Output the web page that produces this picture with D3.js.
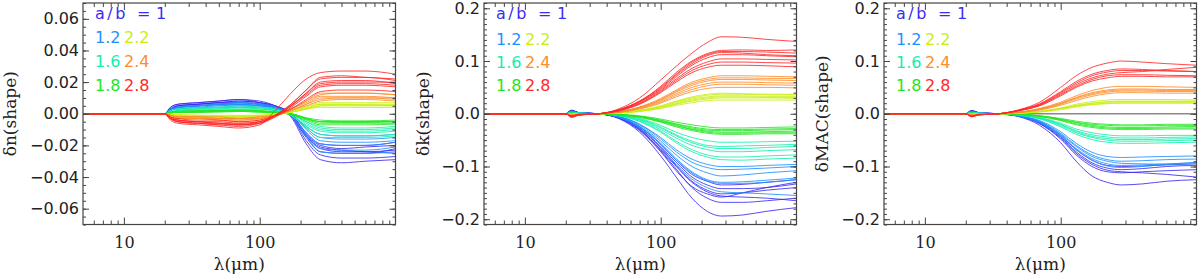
<!DOCTYPE html>
<html><head><meta charset="utf-8">
<script src="https://cdn.jsdelivr.net/npm/d3@7"></script>
<style>html,body{margin:0;padding:0;background:#fff}svg{display:block}</style>
</head><body><svg id="c" width="1200" height="276"></svg>
<script>
// wavelength sample points (micron)
const lambda = [5,20,22,25,35,50,70,100,130,170,220,280,400,600,1000];
// legend labels (a/b) and colours
const abLabels = ["1","1.2","1.6","1.8","2.2","2.4","2.8"];
const abColors = ["#3c2cf2","#1e90ff","#14eeaa","#22e622","#c8ee14","#ff8c28","#ff2828"];
const xTicksMajor = [10,100];
const xTicksMinor = [6,7,8,9,20,30,40,50,60,70,80,90,200,300,400,500,600,700,800,900];
const yTicksN = [-0.06,-0.04,-0.02,0,0.02,0.04,0.06];
const yTicksK = [-0.2,-0.1,0,0.1,0.2];

// ---- delta n (shape), values in units of 1e-3 ----
const dn_ab10 = [
 [0,0,3,5,6,7,8,7,5,0,-14,-22,-24,-24,-23],
 [0,0,4,6,7,8,9,8,5,-1,-17,-26,-28,-28,-27],
 [0,0,3,5,6,7,7,6,4,-1,-15,-24,-25,-25,-22],
 [0,0,4,6,7,8,9,7,4,-2,-19,-29,-31,-30,-29],
 [0,0,2,4,5,6,6,5,4,0,-12,-19,-20,-20,-18],
 [0,0,3,5,6,7,8,7,5,0,-13,-20,-22,-21,-20],
 [0,0,3,4,5,6,7,6,4,-1,-14,-21,-23,-24,-25]];
const dn_ab12 = [
 [0,0,2,4,5,5,6,5,4,0,-9,-15,-16,-16,-15],
 [0,0,2,3,4,5,5,5,3,0,-10,-17,-18,-18,-17],
 [0,0,3,4,5,6,6,6,4,-1,-12,-19,-20,-20,-18],
 [0,0,2,4,5,6,7,6,4,-1,-13,-22,-23,-23,-21],
 [0,0,2,3,4,4,5,4,3,0,-8,-13,-14,-14,-13],
 [0,0,3,4,5,6,7,6,4,-1,-14,-24,-25,-25,-24]];
const dn_ab16 = [
 [0,0,1,2,3,3,4,3,2,0,-5,-9,-10,-10,-9],
 [0,0,1,2,3,4,4,4,2,-1,-7,-11,-12,-12,-11],
 [0,0,1,2,3,3,3,3,2,0,-5,-8,-9,-9,-8],
 [0,0,2,3,3,4,4,4,2,-1,-8,-13,-14,-14,-13],
 [0,0,1,2,2,3,3,3,2,0,-6,-10,-11,-11,-10],
 [0,0,2,3,4,4,5,4,3,-1,-9,-15,-15,-15,-14]];
const dn_ab18 = [
 [0,0,1,1,1.5,2,2,1.5,1,0,-3,-5,-5,-5,-5],
 [0,0,0.5,1,1,1.5,2,1.5,1,0,-2.5,-4,-4.5,-4.5,-4],
 [0,0,1,1.5,2,2,2.5,2,1,-0.5,-3.5,-6,-6,-6,-6],
 [0,0,0.5,1,1,1,1.5,1,0.5,0,-3,-5,-5.5,-5.5,-5],
 [0,0,1,1,1.5,2,2,2,1,-0.5,-4,-7,-7,-7,-6.5],
 [0,0,0.5,1,1,1.5,1.5,1,0.5,0,-3,-5,-5,-5,-5]];
const dn_ab22 = [
 [0,0,-0.5,-1,-1,-1.5,-1.5,-1,-0.5,1,3,5,5,5,5],
 [0,0,-1,-1,-1.5,-2,-2,-1.5,-0.5,1,4,6,6,6,6],
 [0,0,-0.5,-0.5,-1,-1,-1,-1,0,1,3,4,4,4,4],
 [0,0,-1,-1.5,-2,-2,-2.5,-2,-1,1,4.5,7,7,7,7],
 [0,0,-0.5,-1,-1,-1.5,-1.5,-1,-0.5,1,3,5,5.5,5.5,5],
 [0,0,-1,-1,-1.5,-2,-2,-1.5,-0.5,1,3.5,6,6,5.5,5.5]];
const dn_ab24 = [
 [0,0,-1,-2,-2,-3,-3,-3,-1,2,6,9,10,10,9],
 [0,0,-2,-2,-3,-3,-4,-3,-1,3,7,11,11,11,10],
 [0,0,-1,-2,-2,-3,-3,-2,-1,2,5,8,9,9,8],
 [0,0,-2,-3,-3,-4,-4,-3,-1,3,8,12,13,13,12],
 [0,0,-1,-2,-2,-2,-3,-2,-1,2,6,10,10,10,10],
 [0,0,-2,-3,-3,-4,-5,-4,-1,3,8,13,13,13,12]];
const dn_ab28 = [
 [0,0,-3,-4,-5,-5,-6,-5,-2,4,11,17,18,18,17],
 [0,0,-3,-5,-6,-6,-7,-6,-2,5,13,20,21,21,19],
 [0,0,-2,-3,-4,-4,-5,-4,-1,3,9,14,15,15,14],
 [0,0,-4,-6,-7,-8,-9,-7,2,13,22,26,27,27,25],
 [0,0,-3,-5,-6,-7,-8,-6,-1,6,15,22,23,23,21],
 [0,0,-3,-4,-5,-6,-6,-5,-1,5,12,18,19,19,18],
 [0,0,-2,-4,-5,-6,-7,-5,-1,5,13,19,20,20,20],
 [0,0,-3,-5,-6,-7,-7,-6,-1,6,15,23,24,23,22]];

// ---- delta k (shape), units of 1e-3 ----
const dk_ab10 = [
 [0,0,6,2,0,-10,-35,-80,-120,-160,-185,-194,-192,-185,-178],
 [0,0,6,2,0,-9,-30,-70,-105,-140,-160,-168,-168,-165,-160],
 [0,0,7,2,0,-8,-28,-65,-98,-128,-145,-152,-150,-145,-140],
 [0,0,5,2,0,-8,-27,-62,-92,-120,-135,-142,-142,-140,-133],
 [0,0,6,2,0,-7,-25,-58,-88,-115,-128,-135,-134,-130,-125],
 [0,0,5,1,0,-8,-30,-68,-100,-130,-148,-156,-158,-160,-165],
 [0,0,6,2,0,-9,-32,-72,-108,-138,-152,-158,-150,-140,-130]];
const dk_ab12 = [
 [0,0,4,1,0,-6,-22,-52,-78,-100,-112,-118,-116,-112,-108],
 [0,0,4,1,0,-6,-20,-48,-72,-92,-102,-106,-105,-103,-100],
 [0,0,5,2,0,-7,-25,-58,-88,-112,-127,-132,-132,-130,-125],
 [0,0,4,1,0,-7,-24,-56,-85,-110,-125,-130,-129,-126,-122],
 [0,0,5,1,0,-8,-28,-64,-96,-124,-140,-148,-150,-152,-155],
 [0,0,4,1,0,-5,-20,-45,-68,-86,-96,-100,-100,-98,-96]];
const dk_ab16 = [
 [0,0,2,1,0,-3,-10,-25,-40,-52,-60,-62,-61,-60,-58],
 [0,0,2,1,0,-4,-12,-30,-46,-60,-68,-72,-72,-70,-68],
 [0,0,2,0,0,-3,-9,-22,-35,-45,-51,-54,-54,-53,-52],
 [0,0,3,1,0,-4,-14,-33,-52,-68,-78,-82,-82,-80,-78],
 [0,0,2,1,0,-4,-15,-35,-55,-72,-82,-87,-88,-86,-84],
 [0,0,2,1,0,-3,-11,-27,-42,-55,-63,-66,-66,-64,-62]];
const dk_ab18 = [
 [0,0,1,0,0,-2,-5,-12,-19,-25,-29,-30,-30,-29,-28],
 [0,0,1,0,0,-2,-6,-14,-22,-29,-33,-35,-35,-34,-33],
 [0,0,1,0,0,-1,-4,-10,-16,-21,-25,-27,-27,-26,-25],
 [0,0,1,0,0,-2,-7,-16,-25,-32,-37,-39,-39,-38,-38],
 [0,0,1,0,0,-2,-5,-13,-20,-27,-31,-32,-32,-31,-30],
 [0,0,1,0,0,-2,-6,-15,-23,-30,-35,-37,-37,-36,-36]];
const dk_ab22 = [
 [0,0,-1,0,0,2,5,11,18,24,28,30,30,30,29],
 [0,0,-1,0,0,2,6,13,21,28,32,34,34,33,33],
 [0,0,-1,0,0,1,4,10,16,21,25,26,26,26,26],
 [0,0,-1,0,0,2,6,14,23,30,35,37,37,36,36],
 [0,0,-1,0,0,2,5,12,19,26,30,32,32,31,31],
 [0,0,-1,0,0,2,7,15,24,32,37,39,38,37,37]];
const dk_ab24 = [
 [0,0,-2,-1,0,3,10,22,35,46,53,56,56,55,54],
 [0,0,-2,-1,0,4,12,26,41,54,62,65,65,64,63],
 [0,0,-2,-1,0,3,9,20,32,42,48,50,50,50,49],
 [0,0,-3,-1,0,4,13,29,45,60,68,72,72,71,70],
 [0,0,-2,-1,0,3,11,24,38,50,57,60,60,59,58],
 [0,0,-2,-1,0,4,12,27,43,57,65,68,68,67,67]];
const dk_ab28 = [
 [0,0,-4,-1,0,10,30,64,90,115,135,146,145,141,137],
 [0,0,-5,-2,0,8,24,50,75,98,112,118,118,117,115],
 [0,0,-6,-2,0,7,20,44,66,86,98,104,104,103,102],
 [0,0,-5,-2,0,7,22,46,70,92,106,112,112,110,108],
 [0,0,-7,-3,0,8,24,52,78,100,114,120,121,120,121],
 [0,0,-5,-2,0,6,18,40,60,78,88,92,92,91,89],
 [0,0,-6,-2,0,8,23,48,73,95,110,116,115,112,110],
 [0,0,-4,-1,0,6,19,42,63,82,93,98,98,97,96]];

// ---- delta MAC (shape), units of 1e-3 ----
const dm_ab10 = [
 [0,0,6,2,0,-6,-22,-55,-90,-118,-130,-135,-133,-128,-125],
 [0,0,6,2,0,-5,-19,-48,-78,-100,-110,-112,-110,-108,-106],
 [0,0,5,1,0,-5,-17,-44,-72,-93,-103,-106,-104,-100,-98],
 [0,0,6,2,0,-5,-18,-46,-75,-96,-107,-110,-112,-115,-120],
 [0,0,5,2,0,-4,-16,-41,-68,-88,-98,-100,-99,-97,-95]];
const dm_ab12 = [
 [0,0,4,1,0,-4,-14,-37,-60,-78,-87,-90,-89,-87,-86],
 [0,0,4,1,0,-4,-13,-34,-56,-73,-81,-83,-82,-81,-80],
 [0,0,5,1,0,-5,-16,-41,-66,-85,-95,-98,-97,-95,-93],
 [0,0,4,1,0,-4,-15,-39,-62,-81,-90,-94,-95,-96,-98],
 [0,0,4,1,0,-5,-17,-43,-68,-88,-99,-102,-100,-96,-92]];
const dm_ab16 = [
 [0,0,2,1,0,-2,-8,-20,-32,-40,-44,-46,-46,-45,-44],
 [0,0,2,1,0,-3,-9,-23,-36,-45,-50,-52,-52,-51,-50],
 [0,0,2,0,0,-2,-7,-18,-29,-36,-40,-42,-42,-41,-41],
 [0,0,2,1,0,-3,-10,-25,-39,-49,-54,-56,-56,-55,-54],
 [0,0,2,1,0,-2,-8,-21,-34,-43,-47,-49,-49,-48,-47]];
const dm_ab18 = [
 [0,0,1,0,0,-1,-4,-10,-16,-20,-22,-23,-23,-22,-22],
 [0,0,1,0,0,-1,-5,-12,-19,-24,-27,-28,-28,-27,-27],
 [0,0,1,0,0,-1,-4,-9,-14,-18,-20,-21,-21,-20,-20],
 [0,0,1,0,0,-2,-5,-13,-21,-26,-29,-30,-30,-29,-29],
 [0,0,1,0,0,-1,-4,-11,-17,-22,-25,-26,-26,-25,-24]];
const dm_ab22 = [
 [0,0,-1,0,0,1,4,9,14,18,20,21,21,21,21],
 [0,0,-1,0,0,1,4,10,16,20,23,24,24,24,24],
 [0,0,-1,0,0,1,5,11,18,23,26,27,27,27,26],
 [0,0,-1,0,0,1,3,8,13,17,19,20,20,20,20],
 [0,0,-1,0,0,1,4,10,15,20,22,23,23,23,23]];
const dm_ab24 = [
 [0,0,-2,-1,0,3,8,18,28,36,41,43,43,42,42],
 [0,0,-2,-1,0,3,9,20,31,40,45,47,47,46,46],
 [0,0,-2,-1,0,3,10,22,34,44,50,52,52,51,50],
 [0,0,-2,-1,0,2,7,16,25,33,38,40,40,39,39],
 [0,0,-2,-1,0,3,9,19,30,38,43,45,45,44,44]];
const dm_ab28 = [
 [0,0,-5,-2,0,8,22,50,72,88,96,100,98,95,92],
 [0,0,-5,-2,0,7,18,40,58,72,79,82,82,81,80],
 [0,0,-6,-2,0,7,19,42,61,75,82,85,84,82,80],
 [0,0,-4,-1,0,6,16,36,52,65,72,74,74,73,72],
 [0,0,-5,-2,0,7,17,38,55,68,75,78,80,84,88],
 [0,0,-5,-2,0,6,15,34,50,62,68,71,71,70,70]];

// ---------------- drawing ----------------
const svg = d3.select("#c");
const TOP = 3, BOTTOM = 224.5, W = 312.5;
const panels = [
  {left: 83, title: "δn(shape)", tcx: 10, dom: [-0.07,0.07], ticks: yTicksN, dec: 2,
   minor: d3.range(-14,15).map(i => i*0.005), zero: false,
   groups: [dn_ab10,dn_ab12,dn_ab16,dn_ab18,dn_ab22,dn_ab24,dn_ab28], rows: [19,43,67,91]},
  {left: 484, title: "δk(shape)", tcx: 423, dom: [-0.21,0.21], ticks: yTicksK, dec: 1,
   minor: d3.range(-21,22).map(i => i*0.01), zero: false,
   groups: [dk_ab10,dk_ab12,dk_ab16,dk_ab18,dk_ab22,dk_ab24,dk_ab28], rows: [19,45,68,91]},
  {left: 884, title: "δMAC(shape)", tcx: 822, dom: [-0.21,0.21], ticks: yTicksK, dec: 1,
   minor: d3.range(-21,22).map(i => i*0.01), zero: true,
   groups: [dm_ab10,dm_ab12,dm_ab16,dm_ab18,dm_ab22,dm_ab24,dm_ab28], rows: [19,45,68,91]}
];

const fmtY = dec => d => (d < -1e-9 ? "\u2212" : "") + Math.abs(d).toFixed(dec);

panels.forEach(p => {
  const g = svg.append("g");
  const x = d3.scaleLog().domain([5,1000]).range([p.left, p.left + W]);
  const y = d3.scaleLinear().domain(p.dom).range([BOTTOM, TOP]);
  const clipId = "clip" + p.left;
  g.append("clipPath").attr("id", clipId).append("rect")
    .attr("x", p.left).attr("y", TOP).attr("width", W).attr("height", BOTTOM - TOP);

  const plot = g.append("g").attr("clip-path", `url(#${clipId})`);
  if (p.zero) {
    plot.append("line").attr("x1", x(5)).attr("x2", x(1000))
      .attr("y1", y(0)).attr("y2", y(0)).attr("stroke", "#8a8a8a").attr("stroke-width", 1.6);
  }
  const line = d3.line().x((d,i) => x(lambda[i])).y(d => y(d * 1e-3)).curve(d3.curveMonotoneX);
  p.groups.forEach((grp, gi) => {
    grp.forEach(arr => {
      plot.append("path").attr("d", line(arr)).attr("fill", "none")
        .attr("stroke", abColors[gi]).attr("stroke-width", 1).attr("stroke-opacity", 0.85);
    });
  });

  // axes
  const axStyle = sel => { sel.select(".domain").remove(); sel.selectAll("line").attr("stroke", "#444"); };
  g.append("g").attr("transform", `translate(${p.left},0)`)
    .call(d3.axisLeft(y).tickValues(p.minor).tickSize(-3).tickFormat("")).call(axStyle);
  const yl = g.append("g").attr("transform", `translate(${p.left},0)`)
    .call(d3.axisLeft(y).tickValues(p.ticks).tickSize(-6).tickPadding(4).tickFormat(fmtY(p.dec))).call(axStyle);
  yl.selectAll("text").attr("font-family", "DejaVu Sans").attr("font-size", 16).attr("fill", "#222");
  g.append("g").attr("transform", `translate(${p.left + W},0)`)
    .call(d3.axisRight(y).tickValues(p.minor).tickSize(-3).tickFormat("")).call(axStyle);
  g.append("g").attr("transform", `translate(${p.left + W},0)`)
    .call(d3.axisRight(y).tickValues(p.ticks).tickSize(-6).tickFormat("")).call(axStyle);

  g.append("g").attr("transform", `translate(0,${BOTTOM})`)
    .call(d3.axisBottom(x).tickValues(xTicksMinor).tickSize(-4).tickFormat("")).call(axStyle);
  const xl = g.append("g").attr("transform", `translate(0,${BOTTOM})`)
    .call(d3.axisBottom(x).tickValues(xTicksMajor).tickSize(-7).tickPadding(12).tickFormat(d3.format("d"))).call(axStyle);
  xl.selectAll("text").attr("font-family", "DejaVu Serif").attr("font-size", 16).attr("fill", "#222");
  g.append("g").attr("transform", `translate(0,${TOP})`)
    .call(d3.axisTop(x).tickValues(xTicksMinor).tickSize(-4).tickFormat("")).call(axStyle);
  g.append("g").attr("transform", `translate(0,${TOP})`)
    .call(d3.axisTop(x).tickValues(xTicksMajor).tickSize(-7).tickFormat("")).call(axStyle);

  g.append("rect").attr("x", p.left).attr("y", TOP).attr("width", W).attr("height", BOTTOM - TOP)
    .attr("fill", "none").attr("stroke", "#444").attr("stroke-width", 1.2);

  // axis titles
  g.append("text").attr("x", p.left + W / 2).attr("y", 270).attr("text-anchor", "middle")
    .attr("font-family", "DejaVu Serif").attr("font-size", 17).attr("fill", "#222").text("λ(μm)");
  g.append("text").attr("transform", `translate(${p.tcx},${(TOP + BOTTOM) / 2}) rotate(-90)`)
    .attr("text-anchor", "middle").attr("dy", "0.35em")
    .attr("font-family", "DejaVu Serif").attr("font-size", 17).attr("fill", "#222").text(p.title);

  // legend
  const lg = g.append("g").attr("font-family", "DejaVu Sans").attr("font-size", 16);
  const lx = p.left + 12;
  const t0 = lg.append("text").attr("y", p.rows[0]).attr("fill", abColors[0]);
  t0.append("tspan").attr("x", lx).attr("letter-spacing", 2.5).text("a/b");
  t0.append("tspan").attr("x", lx + 42).text("=");
  t0.append("tspan").attr("x", lx + 61).text(abLabels[0]);
  [[1,4],[2,5],[3,6]].forEach((pair, r) => {
    lg.append("text").attr("x", lx).attr("y", p.rows[r + 1]).attr("fill", abColors[pair[0]]).text(abLabels[pair[0]]);
    lg.append("text").attr("x", lx + 29).attr("y", p.rows[r + 1]).attr("fill", abColors[pair[1]]).text(abLabels[pair[1]]);
  });
});
</script></body></html>
